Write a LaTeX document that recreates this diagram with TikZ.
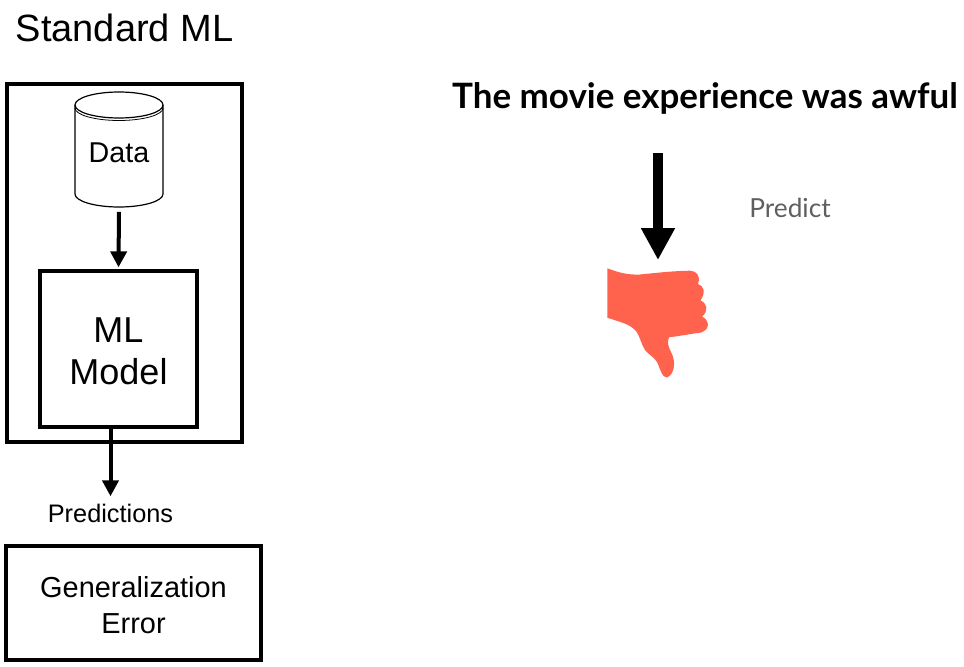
\documentclass[tikz,border=0pt]{standalone}
\usepackage{fontspec}
\setmainfont{Liberation Sans}
\newfontfamily\titlefont{Lato}
\usetikzlibrary{arrows.meta}
\definecolor{thumbred}{RGB}{255,99,77}
\definecolor{predictgray}{RGB}{95,95,95}
\tikzset{
  px/.style={x=0.75pt,y=-0.75pt},
  box/.style={draw,line width=3pt,inner sep=0pt,align=center},
  flow/.style={line width=3pt,-{Triangle[length=12pt,width=12pt]}},
}
\begin{document}
\begin{tikzpicture}[px]
\useasboundingbox (0,0) rectangle (964,667);

% heading
\node (heading) at (124.5,28) {\fontsize{28.5}{34}\selectfont Standard ML};

% standard ml column
\node [box,minimum width=176pt,minimum height=268pt] (outer) at (124.5,263) {};
\draw [line width=0.9pt] (119,105) ellipse [x radius=44,y radius=13];
\draw [line width=0.9pt] (75,105) -- (75,194) arc [start angle=180,end angle=0,x radius=44,y radius=13] -- (163,105);
\draw [line width=0.6pt] (75,108) arc [start angle=180,end angle=0,x radius=44,y radius=12.5];
\node [inner sep=0pt,minimum width=66pt,minimum height=81pt] (data) at (119,153) {\fontsize{21.5}{26}\selectfont Data};
\node [box,minimum width=118pt,minimum height=117.5pt,font=\fontsize{27}{31.5}\selectfont] (model) at (118.5,349) {\rule{0pt}{22pt}ML\\Model};
\node [font=\fontsize{19}{23}\selectfont] (predictions) at (110.5,513) {Predictions};
\node [box,minimum width=191pt,minimum height=85.5pt,font=\fontsize{21.7}{27.5}\selectfont] (generror) at (133.5,603) {\rule{0pt}{19pt}Generalization\\Error};

\draw [flow,shorten <=3.5pt,shorten >=1pt] (data.south) -- (model.north);
\draw [flow] (model.south -| predictions.north) -- ([yshift=2pt]predictions.north);

% right part
\node [font=\titlefont\bfseries\fontsize{26.2}{31}\selectfont] (sentence) at (705,98) {The movie experience was awful};
\node [text=predictgray,font=\titlefont\fontsize{19.7}{24}\selectfont] (predict) at (790,208) {Predict};
\coordinate (arrowtop) at (658,153);
\coordinate (thumbtop) at (658,260);
\draw [line width=7.5pt,-{Triangle[length=24pt,width=24pt]}] (arrowtop) -- (thumbtop);

% thumb
\fill [thumbred] (607.3,268.3) .. controls (620,273) and (628,275) .. (640,274.5)
  .. controls (655,273) and (672,271) .. (690,270.7)
  .. controls (696,271) and (701,275) .. (698,284)
  .. controls (704,286) and (706,292) .. (700.5,300.5)
  .. controls (707,303) and (709,311) .. (702,316.5)
  .. controls (709,320) and (711,329) .. (701,332.5)
  .. controls (690,334) and (680,336) .. (669,337.3)
  .. controls (667,342) and (668,346) .. (671,352)
  .. controls (676,361) and (675,374) .. (667,377.5)
  .. controls (662,378) and (660,368) .. (657,362)
  .. controls (655,358) and (648,354) .. (645,350)
  .. controls (641,344) and (640,336) .. (636,331)
  .. controls (630,324) and (620,322) .. (607.3,317.7) -- cycle;
\end{tikzpicture}
\end{document}
